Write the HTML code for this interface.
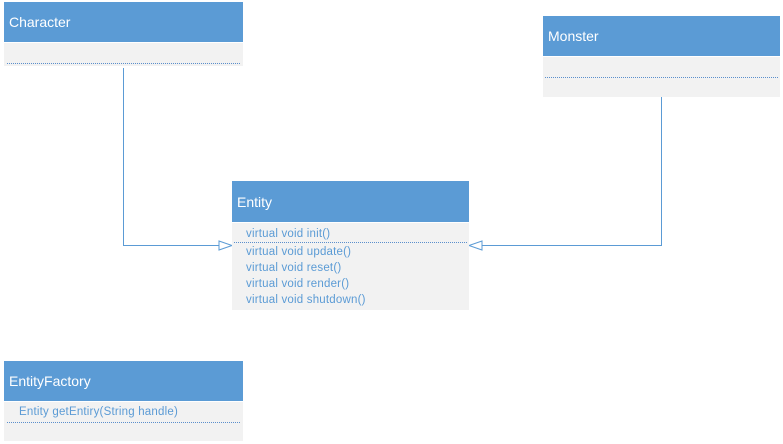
<!DOCTYPE html>
<html><head><style>
body{margin:0;width:783px;height:444px;background:#fff;position:relative;overflow:hidden;font-family:"Liberation Sans",sans-serif}
.h{position:absolute;background:#5b9bd5;color:#fff;font-size:14px;box-sizing:border-box;padding-left:5px;display:flex;align-items:center;border-bottom:1px solid #fff}
.b{position:absolute;background:#f2f2f2}
.d{position:absolute;border-top:1px dotted #5b8fcc;height:0}
.t{position:absolute;color:#5b9bd5;font-size:11.5px;line-height:16px;letter-spacing:0.2px}
</style></head><body>
<svg width="783" height="444" style="position:absolute;left:0;top:0">
<g fill="none" stroke="#5b9bd5" stroke-width="1">
<polyline points="123.5,68 123.5,245.5 219,245.5"/>
<polygon points="219,241 232,245.5 219,250" fill="#fff"/>
<polyline points="661.5,97 661.5,245.5 482,245.5"/>
<polygon points="482,241 469,245.5 482,250" fill="#fff"/>
</g></svg>
<div class="h" style="left:4px;top:2px;width:239px;height:41px">Character</div>
<div class="b" style="left:4px;top:43px;width:239px;height:23px"></div>
<div class="d" style="left:7px;top:63px;width:233px"></div>

<div class="h" style="left:543px;top:16px;width:237px;height:41px">Monster</div>
<div class="b" style="left:543px;top:57px;width:237px;height:40px"></div>
<div class="d" style="left:545px;top:77px;width:233px"></div>

<div class="h" style="left:232px;top:181px;width:237px;height:42px">Entity</div>
<div class="b" style="left:232px;top:223px;width:237px;height:87px"></div>
<div class="t" style="left:246px;top:226px">virtual void init()</div>
<div class="d" style="left:234px;top:242px;width:233px"></div>
<div class="t" style="left:246px;top:244px">virtual void update()<br>virtual void reset()<br>virtual void render()<br>virtual void shutdown()</div>

<div class="h" style="left:4px;top:361px;width:239px;height:41px">EntityFactory</div>
<div class="b" style="left:4px;top:402px;width:239px;height:39px"></div>
<div class="t" style="left:19px;top:404px">Entity getEntiry(String handle)</div>
<div class="d" style="left:7px;top:422px;width:233px"></div>
</body></html>
